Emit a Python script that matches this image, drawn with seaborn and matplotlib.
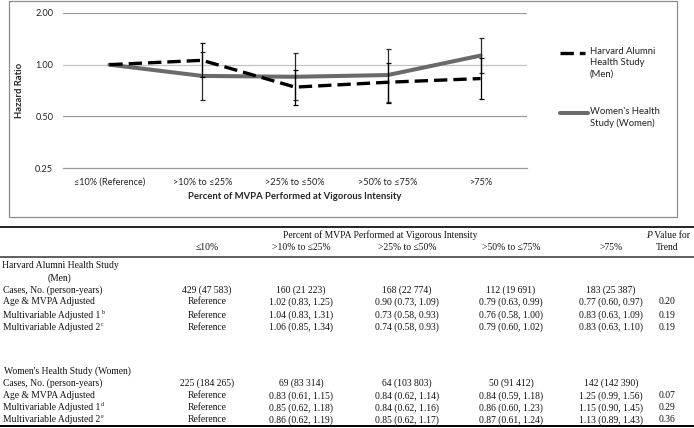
import numpy as np
import pandas as pd
import seaborn as sns
import matplotlib.pyplot as plt
from matplotlib.lines import Line2D
from matplotlib.patches import Rectangle

# --- dati del grafico (Multivariable Adjusted 2) ---
categories = ["≤10% (Reference)", ">10% to ≤25%", ">25% to ≤50%", ">50% to ≤75%", ">75%"]
men_hr = [1.00, 1.06, 0.74, 0.79, 0.83]
men_lo = [1.00, 0.85, 0.58, 0.60, 0.63]
men_hi = [1.00, 1.34, 0.93, 1.02, 1.10]
women_hr = [1.00, 0.86, 0.85, 0.87, 1.13]
women_lo = [1.00, 0.62, 0.62, 0.61, 0.89]
women_hi = [1.00, 1.19, 1.17, 1.24, 1.43]
y_ticks = [0.25, 0.5, 1.0, 2.0]
y_ticklabels = ["0.25", "0.50", "1.00", "2.00"]
legend_labels = ["Harvard Alumni\nHealth Study\n(Men)", "Women's Health\nStudy (Women)"]

# --- dati della tabella ---
table_cols = ["≤10%", ">10% to ≤25%", ">25% to ≤50%", ">50% to ≤75%", ">75%"]
men_cases = ["429 (47 583)", "160 (21 223)", "168 (22 774)", "112 (19 691)", "183 (25 387)"]
men_age = ["Reference", "1.02 (0.83, 1.25)", "0.90 (0.73, 1.09)", "0.79 (0.63, 0.99)", "0.77 (0.60, 0.97)"]
men_mv1 = ["Reference", "1.04 (0.83, 1.31)", "0.73 (0.58, 0.93)", "0.76 (0.58, 1.00)", "0.83 (0.63, 1.09)"]
men_mv2 = ["Reference", "1.06 (0.85, 1.34)", "0.74 (0.58, 0.93)", "0.79 (0.60, 1.02)", "0.83 (0.63, 1.10)"]
men_p = ["", "0.20", "0.19", "0.19"]
women_cases = ["225 (184 265)", "69 (83 314)", "64 (103 803)", "50 (91 412)", "142 (142 390)"]
women_age = ["Reference", "0.83 (0.61, 1.15)", "0.84 (0.62, 1.14)", "0.84 (0.59, 1.18)", "1.25 (0.99, 1.56)"]
women_mv1 = ["Reference", "0.85 (0.62, 1.18)", "0.84 (0.62, 1.16)", "0.86 (0.60, 1.23)", "1.15 (0.90, 1.45)"]
women_mv2 = ["Reference", "0.86 (0.62, 1.19)", "0.85 (0.62, 1.17)", "0.87 (0.61, 1.24)", "1.13 (0.89, 1.43)"]
women_p = ["", "0.07", "0.29", "0.36"]
row_labels = ["Cases, No. (person-years)", "Age & MVPA Adjusted",
              "Multivariable Adjusted 1", "Multivariable Adjusted 2"]
men_sup = ["", "", "b", "c"]
women_sup = ["", "", "d", "e"]

sns.set_style("white")
plt.rcParams['font.family'] = ['Lato', 'DejaVu Sans']

W, H = 694, 428
fig = plt.figure(figsize=(W / 100, H / 100), dpi=100)
renderer = fig.canvas.get_renderer()

def fx(x):
    return x / W

def fy(y):
    return 1 - y / H

# cornice del grafico
fig.add_artist(Rectangle((fx(9), fy(217)), fx(668), 216 / H, transform=fig.transFigure,
                         fill=False, edgecolor="#8c8c8c", lw=0.9))

ax = fig.add_axes([fx(63), fy(168), fx(464), 155 / H])
x = np.arange(len(categories))

sns.lineplot(x=x, y=women_hr, ax=ax, color="#6a6a6a", lw=2.9, zorder=3)
sns.lineplot(x=x, y=men_hr, ax=ax, color="black", lw=2.4, linestyle=(0, (4, 1.8)), zorder=4)

wh, wl, wu = np.array(women_hr), np.array(women_lo), np.array(women_hi)
mh, ml, mu = np.array(men_hr), np.array(men_lo), np.array(men_hi)
ax.errorbar(x[1:], wh[1:], yerr=[wh[1:] - wl[1:], wu[1:] - wh[1:]], fmt="none",
            ecolor="#2a2a2a", elinewidth=0.9, capsize=1.8, capthick=0.9, zorder=5)
ax.errorbar(x[1:], mh[1:], yerr=[mh[1:] - ml[1:], mu[1:] - mh[1:]], fmt="none",
            ecolor="black", elinewidth=0.9, capsize=1.8, capthick=0.9, zorder=5)

ax.set_yscale("log", base=2)
ax.set_ylim(0.25, 2.0)
ax.set_xlim(-0.5, len(categories) - 0.5)
ax.set_yticks(y_ticks)
ax.set_yticklabels(y_ticklabels)
ax.minorticks_off()
ax.set_xticks(x)
ax.set_xticklabels(categories)
ax.tick_params(axis="both", length=0, labelsize=6.6, colors="#222222")
ax.tick_params(axis="y", pad=7)
ax.tick_params(axis="x", pad=7)

for t in y_ticks[1:]:
    ax.axhline(t, color="#c4c4c4" if t == 1.0 else "#9a9a9a", lw=0.9, zorder=1)
for s in ["top", "left", "right"]:
    ax.spines[s].set_visible(False)
ax.spines["bottom"].set_color("#9a9a9a")
ax.spines["bottom"].set_linewidth(0.9)

ax.set_xlabel("Percent of MVPA Performed at Vigorous Intensity", fontsize=6.8, fontweight="bold")
ax.set_ylabel("Hazard Ratio", fontsize=6.8, fontweight="bold")
ax.xaxis.set_label_coords(0.5, -0.155)
ax.yaxis.set_label_coords(-0.083, 0.5)

# legenda
fig.add_artist(Line2D([fx(560), fx(585)], [fy(53), fy(53)], transform=fig.transFigure,
                      color="black", lw=2.4, linestyle=(0, (4, 1.8))))
fig.add_artist(Line2D([fx(560), fx(588)], [fy(113), fy(113)], transform=fig.transFigure,
                      color="#6a6a6a", lw=2.9))
fig.text(fx(590), fy(47), legend_labels[0], fontsize=6.8, va="top", ha="left",
         linespacing=1.35, color="#222222")
fig.text(fx(590), fy(107), legend_labels[1], fontsize=6.8, va="top", ha="left",
         linespacing=1.35, color="#222222")

# --- tabella ---
serif = ["Liberation Serif", "DejaVu Serif"]
fs = 6.9
col_x = [207, 301, 407, 511, 611]
p_x = 667

def tline(y, lw, color):
    fig.add_artist(Line2D([0, 1], [fy(y), fy(y)], transform=fig.transFigure, color=color, lw=lw))

def ttext(x, y, s, ha="center", **kw):
    return fig.text(fx(x), fy(y), s, fontsize=kw.pop("size", fs), family=serif, ha=ha,
                    va="center", color="#111111", **kw)

def right_px(t):
    return t.get_window_extent(renderer).x1 * W / fig.bbox.width

def row_label(y, s, sup):
    t = ttext(3, y, s, ha="left")
    if sup:
        ttext(right_px(t) + 0.5, y - 3, sup, ha="left", size=fs * 0.62)

tline(227, 1.2, "black")
tline(257, 1.2, "#444444")
tline(426, 1.4, "black")

ttext(380, 235, "Percent of MVPA Performed at Vigorous Intensity")
tp = ttext(646, 235, "P", ha="left", style="italic")
ttext(right_px(tp), 235, " Value for", ha="left")
ttext(p_x, 248, "Trend")
for cx, c in zip(col_x, table_cols):
    ttext(cx, 248, c)

ttext(60, 266, "Harvard Alumni Health Study")
ttext(60, 278, "(Men)")
for ry, label, sup, vals, p in zip([290, 302, 315, 327], row_labels, men_sup,
                                   [men_cases, men_age, men_mv1, men_mv2], men_p):
    row_label(ry, label, sup)
    for cx, v in zip(col_x, vals):
        ttext(cx, ry, v)
    if p:
        ttext(p_x, ry, p)

ttext(4, 371, "Women's Health Study (Women)", ha="left")
for ry, label, sup, vals, p in zip([383, 396, 408, 420], row_labels, women_sup,
                                   [women_cases, women_age, women_mv1, women_mv2], women_p):
    row_label(ry, label, sup)
    for cx, v in zip(col_x, vals):
        ttext(cx, ry, v)
    if p:
        ttext(p_x, ry, p)

plt.savefig("out.png", dpi=100)
plt.close()
